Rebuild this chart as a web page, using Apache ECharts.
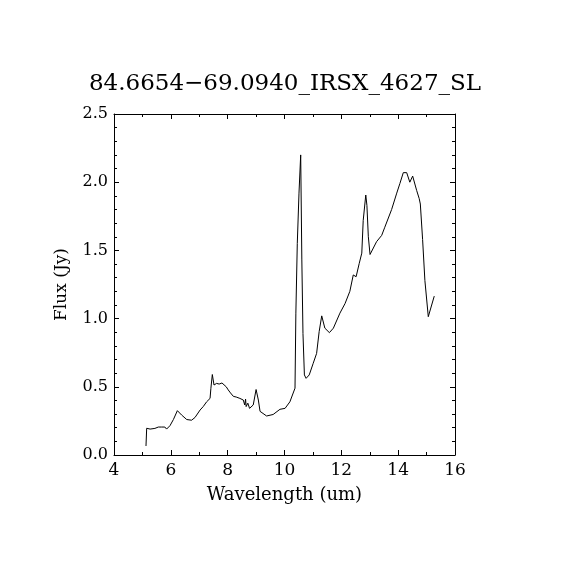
<!DOCTYPE html>
<html>
<head>
<meta charset="utf-8">
<script src="https://cdn.jsdelivr.net/npm/echarts@6/dist/echarts.min.js"></script>
<style>html,body{margin:0;padding:0;background:#fff}#c{width:570px;height:570px}</style>
</head>
<body>
<div id="c"></div>
<script>
var titleText = "84.6654\u221269.0940_IRSX_4627_SL";
var xName = "Wavelength (um)";
var yName = "Flux (Jy)";
var wavelength = [5.126,5.15,5.27,5.44,5.56,5.68,5.79,5.85,5.97,6.09,6.23,6.38,6.56,6.73,6.85,7.03,7.14,7.26,7.38,7.41,7.46,7.52,7.61,7.7,7.8,7.87,7.95,8.02,8.1,8.2,8.3,8.43,8.55,8.6,8.63,8.65,8.71,8.77,8.9,9.0,9.08,9.14,9.37,9.6,9.84,10.02,10.19,10.37,10.4,10.45,10.51,10.57,10.61,10.65,10.7,10.76,10.87,11.01,11.13,11.22,11.31,11.42,11.58,11.72,11.95,12.13,12.3,12.42,12.52,12.63,12.72,12.77,12.86,12.9,12.95,13.01,13.06,13.24,13.42,13.53,13.77,13.95,14.06,14.18,14.3,14.41,14.51,14.65,14.74,14.78,14.86,14.94,15.06,15.1,15.27];
var flux = [0.066,0.196,0.19,0.195,0.205,0.205,0.205,0.19,0.215,0.26,0.325,0.293,0.26,0.255,0.275,0.33,0.355,0.39,0.415,0.489,0.59,0.513,0.525,0.52,0.528,0.522,0.5,0.477,0.455,0.43,0.425,0.415,0.403,0.367,0.41,0.355,0.38,0.342,0.367,0.48,0.403,0.32,0.286,0.297,0.335,0.342,0.39,0.49,1.04,1.55,1.92,2.2,1.43,0.89,0.587,0.562,0.587,0.672,0.745,0.905,1.02,0.93,0.897,0.93,1.04,1.11,1.2,1.32,1.307,1.405,1.48,1.72,1.906,1.83,1.6,1.47,1.48,1.564,1.61,1.67,1.8,1.92,1.99,2.07,2.07,2.0,2.045,1.94,1.88,1.84,1.58,1.28,1.014,1.0,1.165];

var F = "DejaVu Serif";
var pts = wavelength.map(function(w,i){return [w, flux[i]];});
function xa(pos, show){
  return {type:'value', position:pos, min:4, max:16, interval:2,
    axisLine:{show:true, onZero:false, lineStyle:{color:'#000', width:1}},
    axisTick:{show:true, inside:true, length:5, lineStyle:{color:'#000'}},
    minorTick:{show:true, splitNumber:2, length:3, lineStyle:{color:'#000'}},
    splitLine:{show:false},
    axisLabel:{show:show, color:'#000', fontFamily:F, fontSize:17, margin:7},
    name: show ? xName : '', nameLocation:'middle', nameGap:31,
    nameTextStyle:{color:'#000', fontFamily:F, fontSize:18}};
}
function ya(pos, show){
  return {type:'value', position:pos, min:0, max:2.5, interval:0.5,
    axisLine:{show:true, onZero:false, lineStyle:{color:'#000', width:1}},
    axisTick:{show:true, inside:true, length:5, lineStyle:{color:'#000'}},
    minorTick:{show:true, splitNumber:5, length:3, lineStyle:{color:'#000'}},
    splitLine:{show:false},
    axisLabel:{show:show, color:'#000', fontFamily:F, fontSize:16, margin:6,
      formatter:function(v){return v.toFixed(1);}},
    name: show ? yName : '', nameLocation:'middle', nameGap:44, nameRotate:90,
    nameTextStyle:{color:'#000', fontFamily:F, fontSize:17}};
}
var chart = echarts.init(document.getElementById('c'), null, {renderer:'canvas'});
chart.setOption({
  backgroundColor:'#fff',
  animation:false,
  title:{text:titleText, left:'center', top:68, textStyle:{color:'#000', fontFamily:F, fontSize:23, fontWeight:'normal'}},
  grid:{left:114, top:114, width:341, height:341, containLabel:false},
  xAxis:[xa('bottom', true), xa('top', false)],
  yAxis:[ya('left', true), ya('right', false)],
  series:[{type:'line', data:pts, showSymbol:false, symbol:'none',
    lineStyle:{color:'#000', width:1}, xAxisIndex:0, yAxisIndex:0}]
});
</script>
</body>
</html>
